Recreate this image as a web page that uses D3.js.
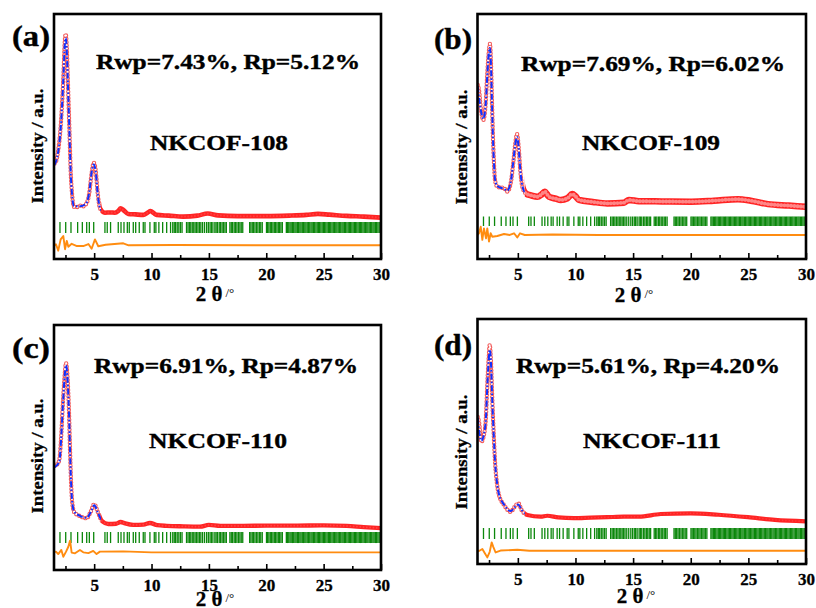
<!DOCTYPE html>
<html>
<head>
<meta charset="utf-8">
<script src="https://cdn.jsdelivr.net/npm/d3@7/dist/d3.min.js"></script>
<style>
  body { margin: 0; background: #fff; }
  text { font-family: "Liberation Serif", "Times New Roman", serif; font-weight: bold; }
</style>
</head>
<body>
<div id="chart"></div>
<script>
// x axis (2 theta, degrees)
var xDomain = [1.5, 30];
var majorTicks = [5, 10, 15, 20, 25, 30];
var minorTicks = [2.5, 7.5, 12.5, 17.5, 22.5, 27.5];

var obsA = [[1.55,39.0],[1.67,39.7],[1.87,44.5],[2.08,54.0],[2.22,64.9],[2.34,77.1],[2.43,88.0],[2.52,91.8],[2.61,86.7],[2.69,75.8],[2.78,62.2],[2.87,48.6],[2.95,36.3],[3.07,26.8],[3.24,21.3],[3.5,21.2],[3.76,21.8],[4.05,21.5],[4.29,22.4],[4.57,26.8],[4.78,35.0],[4.96,39.3],[5.13,36.3],[5.31,26.8],[5.51,20.7],[5.94,18.9],[6.4,19.0],[6.81,18.9],[7.1,19.6],[7.31,20.7],[7.54,20.0],[7.97,18.4],[8.6,18.2],[9.28,18.0],[9.65,18.9],[9.92,19.6],[10.2,18.7],[10.45,18.0],[11.5,17.7],[12.76,17.3],[14.0,17.7],[14.9,18.6],[15.8,17.8],[17.5,17.5],[20,17.5],[22,17.7],[23.5,18.0],[24.5,18.4],[25.5,18.1],[27,17.6],[28.5,17.3],[30,16.9]];
var calcA = [[1.55,38.5],[1.87,44.0],[2.08,53.2],[2.22,64.2],[2.34,76.5],[2.43,86.8],[2.52,90.2],[2.61,85.5],[2.69,75.0],[2.78,61.5],[2.87,48.0],[2.95,35.8],[3.07,26.5],[3.24,21.6],[3.76,21.5],[4.29,22.6],[4.57,27.2],[4.78,35.4],[4.96,38.6],[5.13,35.9],[5.31,26.5],[5.51,20.8],[5.94,19.0],[6.81,19.0],[7.31,20.4],[7.54,19.8],[7.97,18.5],[9.28,18.1],[9.92,19.4],[10.45,18.1],[12.76,17.4],[14.9,18.4],[17.5,17.6],[22,17.7],[24.5,18.3],[27,17.6],[30,17.0]];
var diffA = [[1.55,0],[1.67,0.4],[1.87,-2.2],[2.08,2.4],[2.31,3.8],[2.46,-1.6],[2.61,1.8],[2.75,-0.6],[3.04,0.6],[3.5,-0.3],[4.05,-0.3],[4.5,0.5],[4.78,-1.4],[5.07,2.4],[5.36,-0.4],[6.0,0.2],[7.54,0.8],[8,0],[12,0.1],[20,0],[30,0]];

var obsB = [[1.52,71.0],[1.63,69.0],[1.8,61.0],[2.0,56.7],[2.12,59.0],[2.21,63.6],[2.35,75.8],[2.47,84.0],[2.58,87.8],[2.67,79.9],[2.76,63.6],[2.84,49.9],[2.93,39.1],[3.02,32.2],[3.22,29.5],[3.5,29.2],[3.8,28.9],[4.08,27.5],[4.38,30.9],[4.6,39.1],[4.78,47.2],[4.93,51.0],[5.07,45.8],[5.21,36.3],[5.39,29.5],[5.68,26.8],[6.2,25.9],[6.69,25.4],[7.05,26.3],[7.33,27.5],[7.7,25.4],[8.3,24.6],[8.72,24.1],[9.3,24.8],[9.72,26.5],[10.0,25.6],[10.3,24.1],[11.5,23.3],[12.76,22.7],[14.2,23.0],[14.64,24.1],[15.5,23.6],[17.5,23.5],[20.04,23.4],[22,23.8],[24.1,24.4],[25.2,23.8],[26.7,22.4],[28.5,21.8],[30,21.3]];
var calcB = [[1.52,70.5],[1.8,60.5],[2.0,57.2],[2.21,63.0],[2.35,75.0],[2.47,83.5],[2.58,86.2],[2.67,79.0],[2.76,63.0],[2.84,49.5],[2.93,39.0],[3.02,32.5],[3.22,29.8],[3.8,28.6],[4.08,27.9],[4.38,31.3],[4.6,39.5],[4.78,47.0],[4.93,49.8],[5.07,45.5],[5.21,36.5],[5.39,29.8],[5.68,26.9],[6.69,25.5],[7.33,27.2],[7.7,25.6],[8.72,24.3],[9.72,26.2],[10.3,24.3],[12.76,22.9],[14.64,23.9],[17.5,23.5],[20.04,23.4],[24.1,24.2],[26.7,22.5],[30,21.4]];
var diffB = [[1.52,0],[1.63,0.7],[1.78,3.4],[1.92,-2.0],[2.06,2.7],[2.24,-1.4],[2.35,2.7],[2.5,-2.7],[2.64,0.7],[2.78,-0.7],[3.22,-0.4],[3.8,0.4],[4.3,0],[4.67,0.7],[4.95,-1.0],[5.19,0.7],[5.6,0],[8,0.2],[12,0],[30,0]];

var obsC = [[1.55,42.5],[1.74,42.9],[1.96,44.9],[2.11,53.1],[2.26,66.7],[2.4,77.6],[2.55,84.4],[2.69,77.6],[2.81,64.0],[2.89,50.3],[2.98,36.7],[3.07,28.6],[3.24,23.8],[3.5,22.6],[3.76,22.0],[4.05,21.4],[4.35,21.1],[4.7,23.8],[5.01,26.9],[5.31,23.8],[5.66,20.1],[6.23,18.8],[6.9,18.9],[7.3,19.6],[7.7,19.0],[8.41,18.4],[9.3,18.5],[9.86,19.2],[10.5,18.3],[11.32,18.0],[12.8,17.8],[14.22,17.7],[15.0,18.4],[16.0,18.0],[18,18.0],[20,18.1],[22.5,18.1],[25,18.2],[27,18.0],[28.5,17.5],[30,17.1]];
var calcC = [[1.55,42.0],[1.96,44.2],[2.11,52.5],[2.26,66.0],[2.4,77.0],[2.55,83.6],[2.69,77.0],[2.81,63.5],[2.89,50.0],[2.98,36.5],[3.07,28.8],[3.24,24.0],[3.76,22.1],[4.35,21.3],[4.7,23.6],[5.01,26.4],[5.31,23.6],[5.66,20.2],[6.23,18.9],[7.3,19.4],[8.41,18.5],[9.86,19.0],[11.32,18.1],[14.22,17.8],[15.0,18.3],[20,18.1],[25,18.1],[30,17.2]];
var diffC = [[1.55,0.2],[1.67,0.3],[1.87,-0.7],[2.14,1.0],[2.31,-1.8],[2.55,0.3],[2.75,2.3],[2.9,4.8],[3.04,-0.1],[3.33,-0.4],[3.76,1.0],[4.05,0],[4.5,-0.3],[4.92,0.6],[5.21,-0.7],[5.5,0.3],[7.54,0.4],[10,0],[30,0]];

var obsD = [[1.52,60.0],[1.63,58.1],[1.83,49.9],[2.06,52.7],[2.24,60.8],[2.35,73.1],[2.47,84.0],[2.56,89.4],[2.67,82.6],[2.78,67.6],[2.91,52.7],[3.02,41.8],[3.17,33.6],[3.36,28.2],[3.8,24.1],[4.38,21.3],[4.73,23.4],[5.04,24.8],[5.33,22.0],[5.82,20.0],[6.98,19.3],[7.55,19.7],[8.5,19.0],[9.87,18.7],[11.3,18.9],[12.76,19.1],[14.2,19.3],[15.5,19.3],[17.4,20.4],[20.0,20.7],[22.4,20.1],[24.96,19.1],[27.3,18.0],[30,17.4]];
var calcD = [[1.52,59.5],[1.83,50.3],[2.06,53.0],[2.24,60.2],[2.35,72.5],[2.47,83.0],[2.56,87.5],[2.67,81.8],[2.78,67.0],[2.91,52.5],[3.02,42.0],[3.17,34.0],[3.36,28.5],[3.8,24.3],[4.38,21.6],[4.73,23.2],[5.04,24.3],[5.33,22.1],[5.82,20.1],[6.98,19.4],[9.87,18.8],[12.76,19.1],[17.4,20.3],[20.0,20.6],[22.4,20.1],[24.96,19.2],[27.3,18.1],[30,17.5]];
var diffD = [[1.52,0],[1.63,-0.1],[1.92,0.7],[2.15,-1.1],[2.35,-2.7],[2.56,-0.4],[2.73,3.4],[2.87,1.6],[3.07,-0.7],[3.5,0.1],[4.95,0.4],[6,0],[30,0]];

// Bragg reflection positions (2theta)
var braggPos = [2.02,2.52,2.98,3.56,3.97,4.35,4.58,4.96,
  5.94,6.14,6.43,7.10,7.34,7.60,7.89,8.06,8.41,8.62,8.93,9.28,9.43,9.86,10.24,10.38,10.64,10.97,11.32,11.66,
  11.85,11.98,12.1,12.24,12.38,12.52,12.66,
  13.05,13.18,13.3,13.42,13.55,13.68,13.8,13.93,14.05,14.18,14.3,14.45,
  14.62,14.8,14.95,15.1,15.22,15.35,
  15.52,15.63,15.75,15.9,16.02,16.15,16.27,16.4,16.52,
  16.83,16.95,17.06,17.2,17.31,17.44,17.57,17.7,17.82,17.95,
  18.55,18.66,18.78,18.9,19.02,19.15,19.27,19.4,19.52,19.65,
  20.02,20.12,20.23,20.35,20.46,20.58,20.7,20.81,20.93,21.05,21.16,21.28,21.4,
  21.75,21.85,21.96,22.07,22.17,22.28,22.39,22.5,22.6,22.71,22.82,22.93,23.03,23.14,23.25,23.36,23.46,23.57,23.68,23.79,23.9,24.0,
  24.11,24.22,24.33,24.44,24.54,24.65,24.76,24.87,24.98,25.08,25.19,25.3,25.41,25.52,25.62,25.73,25.84,25.95,26.06,26.16,26.27,
  26.38,26.49,26.6,26.7,26.81,26.92,27.03,27.14,27.24,27.35,27.46,27.57,27.68,27.78,27.89,28.0,28.11,28.22,28.32,28.43,28.54,
  28.65,28.76,28.86,28.97,29.08,29.19,29.3,29.4,29.51,29.62,29.73,29.84,29.94];

var panelLabels = ["(a)", "(b)", "(c)", "(d)"];
var fitTexts = ["Rwp=7.43%, Rp=5.12%", "Rwp=7.69%, Rp=6.02%", "Rwp=6.91%, Rp=4.87%", "Rwp=5.61%, Rp=4.20%"];
var sampleNames = ["NKCOF-108", "NKCOF-109", "NKCOF-110", "NKCOF-111"];

// layout of the four panels (pixels), plus offsets in a.u.
var panels = [
  {obs: obsA, calc: calcA, diff: diffA, left: 54, right: 381, top: 14, bottom: 259,
   diffBase: 5.6, tickTop: 15.1, tickBot: 10.6, band: 4.6, speckle: 0.12,
   labX: 12, labY: 46, fitX: 228, fitY: 69, nameX: 219, nameY: 150, ylabX: 43, ylabY: 146, xlabX: 215, xlabY: 301},
  {obs: obsB, calc: calcB, diff: diffB, left: 477.5, right: 806, top: 14, bottom: 259,
   diffBase: 9.8, tickTop: 17.3, tickBot: 13.5, band: 6.5, speckle: 0.45,
   labX: 434, labY: 49, fitX: 653, fitY: 71, nameX: 651, nameY: 150, ylabX: 467, ylabY: 147, xlabX: 634, xlabY: 302},
  {obs: obsC, calc: calcC, diff: diffC, left: 54, right: 381, top: 325, bottom: 570,
   diffBase: 7.2, tickTop: 15.5, tickBot: 11.0, band: 4.4, speckle: 0.15,
   labX: 12, labY: 358, fitX: 226, fitY: 373, nameX: 218, nameY: 448, ylabX: 43, ylabY: 456, xlabX: 215, xlabY: 606},
  {obs: obsD, calc: calcD, diff: diffD, left: 477.5, right: 806, top: 319, bottom: 564,
   diffBase: 5.4, tickTop: 14.7, tickBot: 10.2, band: 4.2, speckle: 0.12,
   labX: 434, labY: 355, fitX: 648, fitY: 373, nameX: 652, nameY: 448, ylabX: 467, ylabY: 452, xlabX: 636, xlabY: 603}
];

var svg = d3.select("#chart").append("svg")
    .attr("width", 816)
    .attr("height", 608);

var defs = svg.append("defs");
var peakEnd = 5.6; // below this the open circles are spread out and the fit line shows

panels.forEach(function(p, i) {
    var x = d3.scaleLinear().domain(xDomain).range([p.left, p.right]);
    var y = d3.scaleLinear().domain([0, 100]).range([p.bottom, p.top]);
    var g = svg.append("g");

    // clip regions
    defs.append("clipPath").attr("id", "peak" + i).append("rect")
        .attr("x", p.left).attr("y", p.top)
        .attr("width", x(peakEnd) - p.left).attr("height", p.bottom - p.top);
    defs.append("clipPath").attr("id", "rest" + i).append("rect")
        .attr("x", x(peakEnd)).attr("y", p.top)
        .attr("width", p.right - x(peakEnd)).attr("height", p.bottom - p.top);
    defs.append("clipPath").attr("id", "all" + i).append("rect")
        .attr("x", p.left).attr("y", p.top)
        .attr("width", p.right - p.left).attr("height", p.bottom - p.top);

    var line = d3.line()
        .x(function(d) { return x(d[0]); })
        .y(function(d) { return y(d[1]); })
        .curve(d3.curveMonotoneX);
    var diffLine = d3.line()
        .x(function(d) { return x(d[0]); })
        .y(function(d) { return y(d[1] + p.diffBase); });

    // Bragg positions
    g.append("g").attr("clip-path", "url(#all" + i + ")")
        .selectAll("line").data(braggPos).enter().append("line")
        .attr("x1", function(d) { return x(d); })
        .attr("x2", function(d) { return x(d); })
        .attr("y1", y(p.tickTop))
        .attr("y2", y(p.tickBot))
        .attr("stroke", "#0b870b")
        .attr("stroke-width", 1.3);

    // difference curve
    g.append("path").datum(p.diff)
        .attr("clip-path", "url(#all" + i + ")")
        .attr("d", diffLine)
        .attr("fill", "none")
        .attr("stroke", "#ff8c10")
        .attr("stroke-width", 1.9)
        .attr("stroke-linejoin", "round");

    // observed: dense band where flat
    var rest = g.append("g").attr("clip-path", "url(#rest" + i + ")");
    rest.append("path").datum(p.obs)
        .attr("d", line).attr("fill", "none")
        .attr("stroke", "#ff2424").attr("stroke-width", p.band);
    rest.append("path").datum(p.obs)
        .attr("d", line).attr("fill", "none")
        .attr("stroke", "#ffffff").attr("stroke-opacity", p.speckle)
        .attr("stroke-width", p.band - 2.6)
        .attr("stroke-linecap", "round").attr("stroke-dasharray", "0 3.3");

    // observed: open circles on the peaks, fit line on top
    var peak = g.append("g").attr("clip-path", "url(#peak" + i + ")");
    peak.append("path").datum(p.obs)
        .attr("d", line).attr("fill", "none")
        .attr("stroke", "#f25c5c").attr("stroke-width", 4.4)
        .attr("stroke-linecap", "round").attr("stroke-dasharray", "0 3.3");
    peak.append("path").datum(p.obs)
        .attr("d", line).attr("fill", "none")
        .attr("stroke", "#ffffff").attr("stroke-width", 2.2)
        .attr("stroke-linecap", "round").attr("stroke-dasharray", "0 3.3");
    peak.append("path").datum(p.calc)
        .attr("d", line).attr("fill", "none")
        .attr("stroke", "#1030ff").attr("stroke-width", 2)
        .attr("stroke-dasharray", "6 2 1.6 2");

    // axis ticks (inward)
    var axisMajor = d3.axisBottom(x).tickValues(majorTicks).tickSize(-6).tickPadding(9)
        .tickFormat(d3.format("d"));
    var axisMinor = d3.axisBottom(x).tickValues(minorTicks).tickSize(-4).tickFormat("");
    [axisMajor, axisMinor].forEach(function(ax) {
        var a = g.append("g").attr("transform", "translate(0," + p.bottom + ")").call(ax);
        a.select(".domain").remove();
        a.attr("font-family", null).attr("font-size", null);
        a.selectAll("line").attr("stroke", "#000").attr("stroke-width", 1.6);
        a.selectAll("text").attr("fill", "#000").style("font-size", "17px")
            .attr("stroke", "#000").attr("stroke-width", 0.3);
    });

    // frame
    g.append("rect")
        .attr("x", p.left).attr("y", p.top)
        .attr("width", p.right - p.left).attr("height", p.bottom - p.top)
        .attr("fill", "none").attr("stroke", "#000").attr("stroke-width", 2.6);

    // texts
    g.append("text").attr("x", p.labX).attr("y", p.labY)
        .attr("textLength", 38).attr("lengthAdjust", "spacingAndGlyphs")
        .attr("stroke", "#000").attr("stroke-width", 0.4)
        .style("font-size", "29px").text(panelLabels[i]);
    g.append("text").attr("x", p.fitX).attr("y", p.fitY).attr("text-anchor", "middle")
        .attr("textLength", 264).attr("lengthAdjust", "spacingAndGlyphs")
        .attr("stroke", "#000").attr("stroke-width", 0.4)
        .style("font-size", "21.5px").text(fitTexts[i]);
    g.append("text").attr("x", p.nameX).attr("y", p.nameY).attr("text-anchor", "middle")
        .attr("textLength", 138).attr("lengthAdjust", "spacingAndGlyphs")
        .attr("stroke", "#000").attr("stroke-width", 0.4)
        .style("font-size", "22px").text(sampleNames[i]);
    g.append("text")
        .attr("transform", "translate(" + p.ylabX + "," + p.ylabY + ") rotate(-90)")
        .attr("text-anchor", "middle")
        .attr("textLength", 115).attr("lengthAdjust", "spacingAndGlyphs")
        .attr("stroke", "#000").attr("stroke-width", 0.3)
        .style("font-size", "17px").text("Intensity / a.u.");
    var xl = g.append("text").attr("x", p.xlabX).attr("y", p.xlabY)
        .attr("text-anchor", "middle");
    xl.append("tspan").style("font-size", "21px")
        .attr("stroke", "#000").attr("stroke-width", 0.3).text("2 θ");
    xl.append("tspan").style("font-size", "13px").style("font-weight", "normal")
        .attr("dx", 3).attr("dy", -4).text("/°");
});
</script>
</body>
</html>
